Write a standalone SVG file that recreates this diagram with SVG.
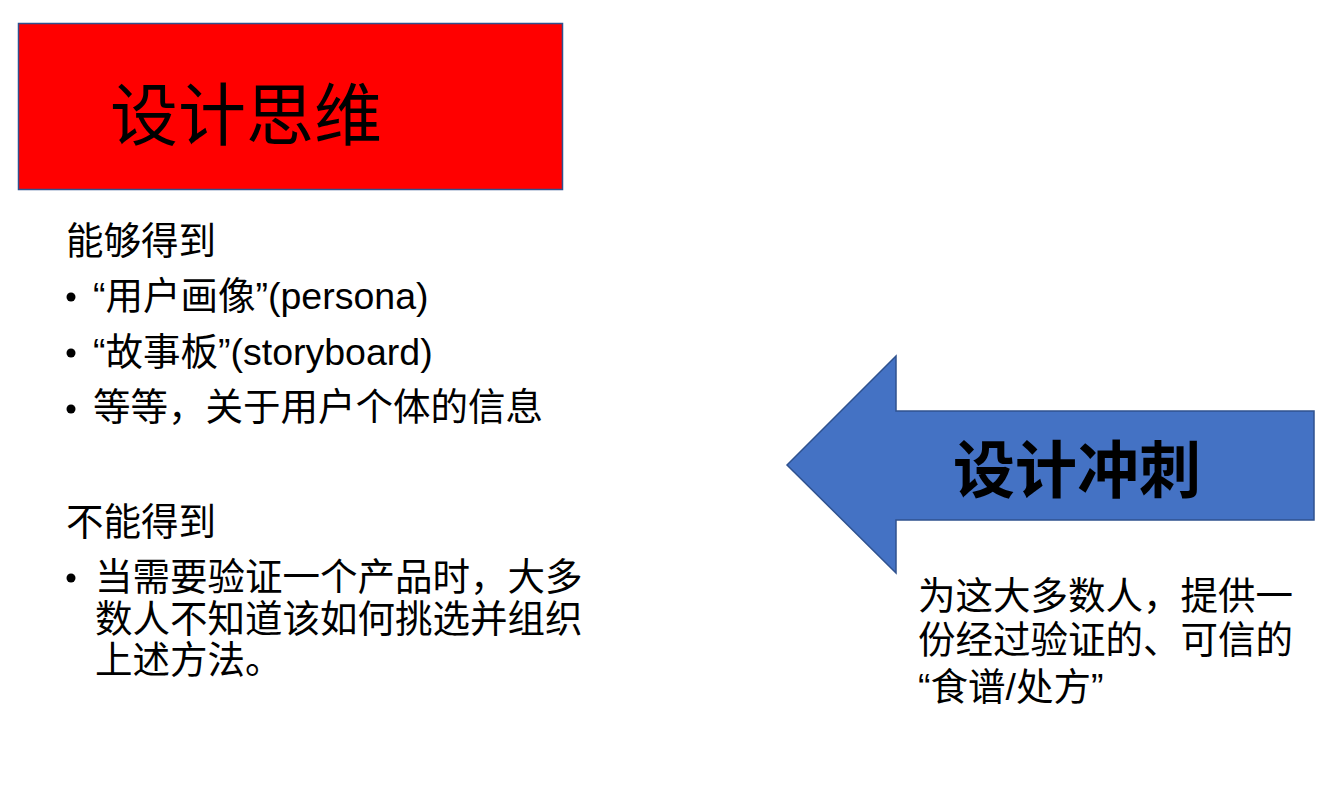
<svg xmlns="http://www.w3.org/2000/svg" width="1342" height="800" viewBox="0 0 1342 800">
  <style>
    .t { font-family: "Noto Sans CJK SC", "Liberation Sans", sans-serif; fill: #000; }
    .body { font-size: 37.5px; }
    .lat { font-family: "Liberation Sans", "Noto Sans CJK SC", sans-serif; }
  </style>
  <rect width="1342" height="800" fill="#fff"/>

  <!-- Title block -->
  <g id="design-thinking">
    <rect x="18.5" y="23.5" width="544" height="166" fill="#ff0000" stroke="#2f528f" stroke-width="1.5"/>
    <text class="t" x="110" y="140" font-size="68">设计思维</text>
  </g>

  <!-- What it gives -->
  <g id="can-get">
    <text class="t body" x="66" y="254">能够得到</text>
    <circle cx="71" cy="297" r="4.5"/>
    <text class="t body" x="93" y="309"><tspan class="lat">“</tspan>用户画像<tspan class="lat">”(persona)</tspan></text>
    <circle cx="71" cy="353" r="4.5"/>
    <text class="t body" x="93" y="365"><tspan class="lat">“</tspan>故事板<tspan class="lat">”(storyboard)</tspan></text>
    <circle cx="71" cy="409" r="4.5"/>
    <text class="t body" x="93" y="420">等等，关于用户个体的信息</text>
  </g>

  <!-- What it does not give -->
  <g id="cannot-get">
    <text class="t body" x="66" y="535">不能得到</text>
    <circle cx="71" cy="578" r="4.5"/>
    <text class="t body" x="95" y="590">当需要验证一个产品时，大多</text>
    <text class="t body" x="95" y="632">数人不知道该如何挑选并组织</text>
    <text class="t body" x="95" y="673">上述方法。</text>
  </g>

  <!-- Design sprint arrow -->
  <g id="design-sprint">
    <polygon points="787,465 896,356 896,411 1314,411 1314,520 896,520 896,573" fill="#4472c4" stroke="#2f528f" stroke-width="1.5"/>
    <text class="t" x="953" y="493" font-size="62" font-weight="bold">设计冲刺</text>
  </g>

  <g id="sprint-note">
    <text class="t body" x="918" y="609">为这大多数人，提供一</text>
    <text class="t body" x="918" y="653">份经过验证的、可信的</text>
    <text class="t body" x="918" y="700"><tspan class="lat">“</tspan>食谱<tspan class="lat">/</tspan>处方<tspan class="lat">”</tspan></text>
  </g>
</svg>
